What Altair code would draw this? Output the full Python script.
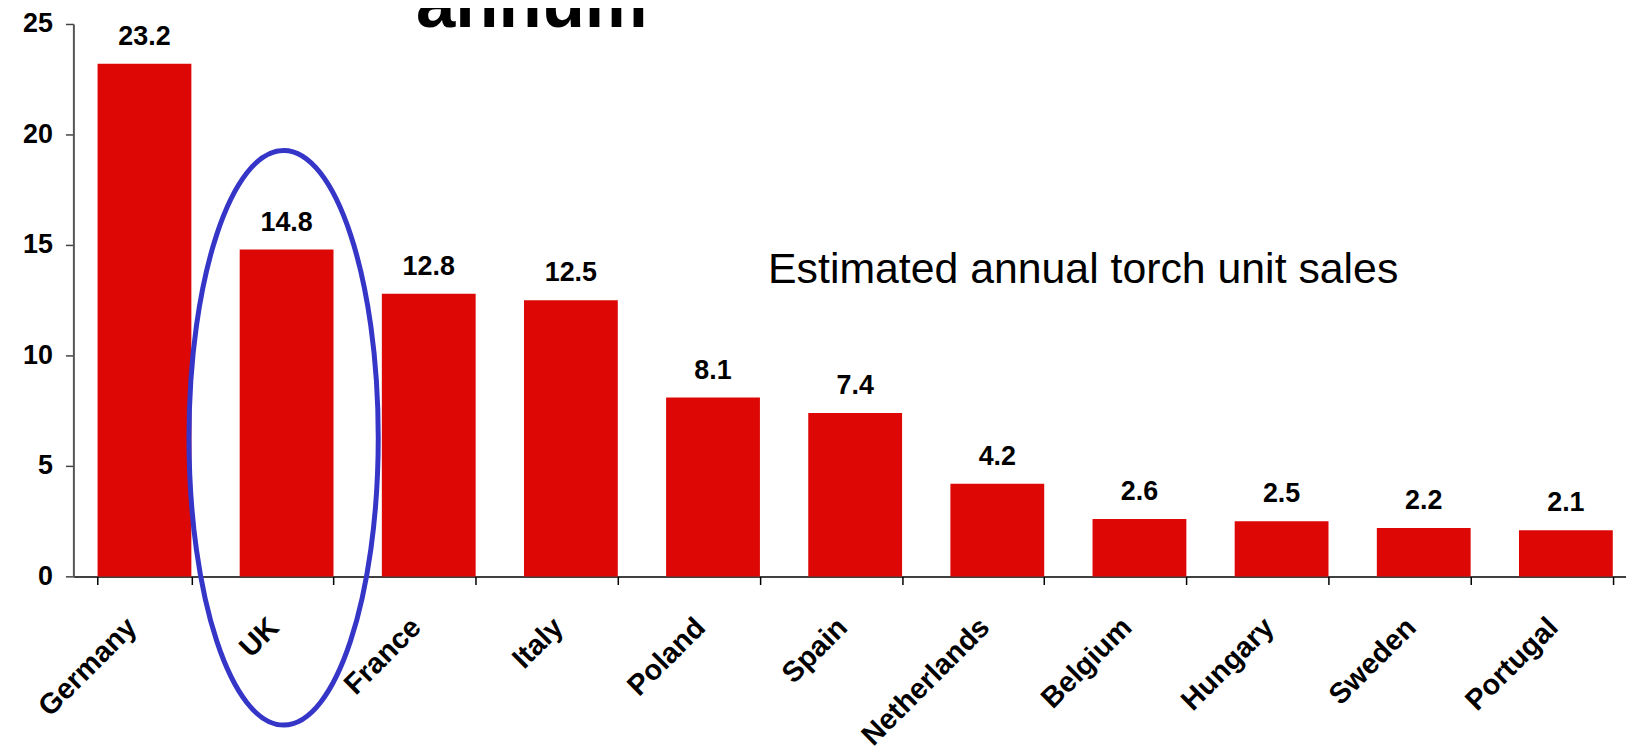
import altair as alt
import pandas as pd

countries = ["Germany", "UK", "France", "Italy", "Poland", "Spain",
             "Netherlands", "Belgium", "Hungary", "Sweden", "Portugal"]
sales = [23.2, 14.8, 12.8, 12.5, 8.1, 7.4, 4.2, 2.6, 2.5, 2.2, 2.1]
y_ticks = [0, 5, 10, 15, 20, 25]
highlight = ["UK"]
highlight_center = [6.28]
title_tail = ["annum"]
annotation = ["Estimated annual torch unit sales"]

df = pd.DataFrame({"country": countries, "sales": sales})
hl = pd.DataFrame({"country": highlight, "yc": highlight_center})

FONT = "Liberation Sans"
RED = "#DD0806"
BLUE = "#3535C8"

xenc = alt.X(
    "country:N", sort=countries,
    scale=alt.Scale(range=[0, 1571], paddingInner=0.34, paddingOuter=0.17),
    axis=alt.Axis(title=None, labelAngle=-45, labelFont=FONT, labelFontSize=29,
                  labelFontWeight="bold", labelColor="black", labelPadding=38,
                  labelOffset=-13,
                  labelAlign="right", labelBaseline="middle",
                  tickBand="extent", tickSize=8, tickColor="black", tickWidth=1.5,
                  domainColor="black", domainWidth=1.5),
)
yenc = alt.Y(
    "sales:Q",
    scale=alt.Scale(domain=[0, 25], nice=False),
    axis=alt.Axis(title=None, values=y_ticks, grid=False, labelFont=FONT,
                  labelFontSize=27, labelFontWeight="bold", labelColor="black",
                  labelPadding=13, tickSize=8, tickColor="#444", tickWidth=1.5,
                  domainColor="#555", domainWidth=2),
)

base = alt.Chart(df).encode(x=xenc, y=yenc)
bars = base.mark_bar(color=RED)
labels = base.mark_text(dy=-19, baseline="alphabetic", font=FONT, fontSize=27,
                        fontWeight="bold", color="black").encode(
    text=alt.Text("sales:Q", format=".1f"))

rx = 0.3294
ell_path = f"M -{rx} 0 A {rx} 1 0 1 1 {rx} 0 A {rx} 1 0 1 1 -{rx} 0 Z"
ellipse = alt.Chart(hl).mark_point(
    shape=ell_path, size=333300, filled=False, stroke=BLUE, strokeWidth=5,
    opacity=1, xOffset=-3,
).encode(x=alt.X("country:N", sort=countries), y=alt.Y("yc:Q"))

note = alt.Chart(pd.DataFrame({"t": annotation})).mark_text(
    align="left", baseline="alphabetic", font=FONT, fontSize=43, color="black"
).encode(x=alt.value(698), y=alt.value(260.4), text="t:N")

title = alt.Chart(pd.DataFrame({"t": title_tail})).mark_text(
    align="left", baseline="alphabetic", font=FONT, fontSize=71,
    fontWeight="bold", color="black"
).encode(x=alt.value(344.3), y=alt.value(2.7), text="t:N")

chart = alt.layer(bars, labels, ellipse, note, title).properties(
    width=1560, height=555.2,
    padding={"left": 65.7, "top": 14.3, "right": 0, "bottom": 170},
    autosize=alt.AutoSizeParams(type="none"),
    background="white",
).configure_view(stroke=None)

chart.save("out.html", embed_options={"renderer": "svg", "actions": False})
